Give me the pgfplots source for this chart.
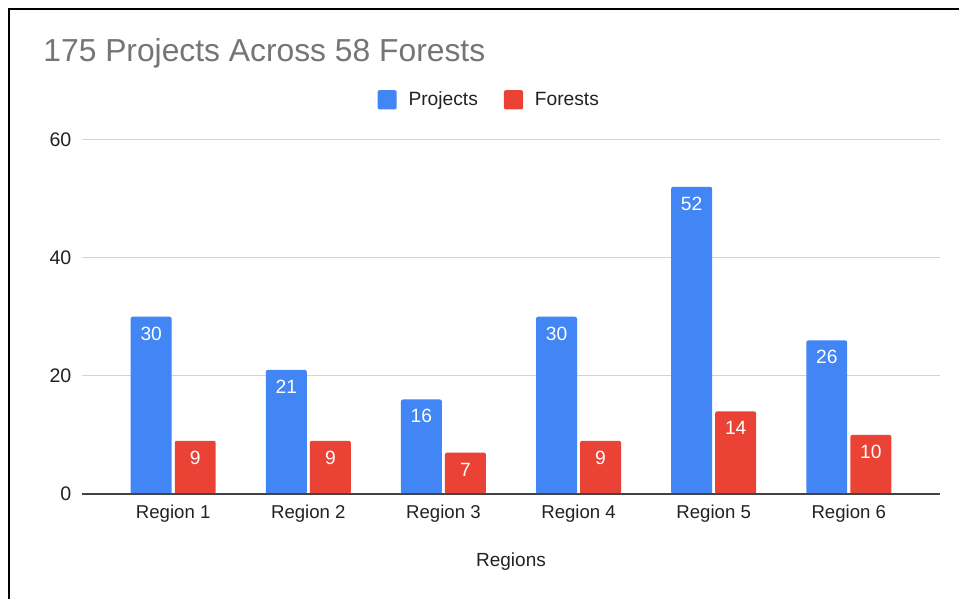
\documentclass[border=0pt]{standalone}
\usepackage{fontspec}
\setmainfont{Liberation Sans}
\usepackage{pgfplots}
\pgfplotsset{compat=1.18}

\definecolor{gblue}{HTML}{4285F4}
\definecolor{gred}{HTML}{EA4335}
\definecolor{titlegray}{HTML}{757575}
\definecolor{gridgray}{HTML}{D3D3D3}
\definecolor{labelblack}{HTML}{222222}
\definecolor{axisgray}{HTML}{444444}

\begin{document}
\begin{tikzpicture}[x=1pt,y=1pt]
% page area and frame
\useasboundingbox (0,0) rectangle (479.5,299.5);
\fill[white] (0,0) rectangle (479.5,299.5);
\draw[line width=1pt] (4.5,0) -- (4.5,294.75) -- (479.5,294.75);
% chart title
\node[anchor=base west, font=\fontsize{15.9}{18}\selectfont, text=titlegray, inner sep=0pt]
  at (21.5,268.75) {175 Projects Across 58 Forests};

\begin{axis}[
  at={(41pt,52.5pt)}, anchor=south west,
  scale only axis, width=429pt, height=177.25pt,
  xmin=-0.675, xmax=5.675, ymin=0, ymax=60,
  xtick={0,1,2,3,4,5},
  xticklabels={Region 1,Region 2,Region 3,Region 4,Region 5,Region 6},
  ytick={0,20,40,60},
  ymajorgrids, grid style={draw=gridgray, line width=0.6pt},
  axis line style={draw=none}, major tick length=0pt,
  clip=false,
  /pgf/number format/assume math mode=true,
  tick label style={font=\fontsize{9.3}{11}\selectfont, text=labelblack},
  xticklabel style={anchor=base, yshift=-12.5pt},
  yticklabel style={anchor=east, xshift=-1.8pt, font=\fontsize{9.8}{11}\selectfont},
  xlabel={Regions},
  xlabel style={at={(axis description cs:0.5,0)}, anchor=base, yshift=-36.5pt,
    font=\fontsize{9.5}{11}\selectfont, text=labelblack},
  ybar, bar width=0.303,
  legend columns=2,
  legend style={at={(axis description cs:0.344,1.112)}, anchor=west,
    draw=none, fill=none, inner sep=0pt,
    font=\fontsize{9.6}{11}\selectfont, text=labelblack,
    /tikz/every even column/.append style={column sep=11pt}},
  legend image code/.code={%
    \fill[#1] (0pt,-4.8pt) rectangle (9.6pt,4.8pt);
    \path (13.5pt,0pt);},
  nodes near coords,
  nodes near coords style={font=\fontsize{9.6}{11}\selectfont, text=white,
    anchor=base, yshift=-11.75pt},
]
\addplot[fill=gblue, draw=none, rounded corners=1pt, bar shift=-0.163]
  coordinates {(0,30) (1,21) (2,16) (3,30) (4,52) (5,26)};
\addlegendentry{\strut Projects}
\addplot[fill=gred, draw=none, rounded corners=1pt, bar shift=0.163]
  coordinates {(0,9) (1,9) (2,7) (3,9) (4,14) (5,10)};
\addlegendentry{\strut Forests}
% baseline at zero
\draw[axisgray, line width=1pt] (axis cs:-0.675,0) -- (axis cs:5.675,0);
\end{axis}
\end{tikzpicture}
\end{document}
